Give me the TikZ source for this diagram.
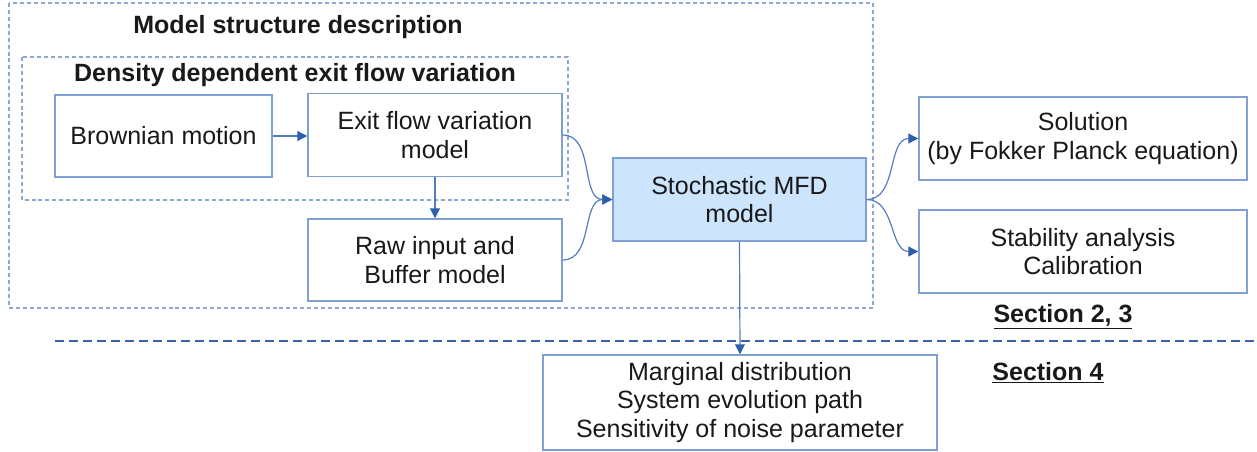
\documentclass[tikz,border=0pt]{standalone}
\usepackage{fontspec}
\setmainfont{Liberation Sans}
\usetikzlibrary{arrows.meta}
\definecolor{boxline}{RGB}{128,160,212}
\definecolor{conn}{RGB}{85,125,190}
\definecolor{tipc}{RGB}{45,95,170}
\definecolor{stochfill}{RGB}{204,228,252}
\definecolor{contline}{RGB}{140,168,212}
\definecolor{sepline}{RGB}{55,100,170}
\definecolor{txt}{RGB}{25,25,25}
\tikzset{
  every node/.style={text=txt, font=\fontsize{18.75}{21.3}\selectfont},
  blockbox/.style={draw=boxline, line width=1.1pt, inner sep=0pt, align=center},
  container/.style={draw=contline, line width=1pt, dash pattern=on 3pt off 2.2pt},
  conn/.style={draw=conn, line width=0.9pt, -{Triangle[length=7.5pt,width=7.5pt,fill=tipc,color=tipc]}},
  titletext/.style={font=\bfseries\fontsize{18.75}{21.3}\selectfont},
}
\begin{document}
\begin{tikzpicture}[x=0.75pt,y=-0.75pt]
\useasboundingbox (0,0) rectangle (1257,451);
% containers
\draw[container] (9,3) rectangle (873,308);
\draw[container] (22,57) rectangle (568,200);
\node[titletext] (t1) at (298,27) {Model structure description};
\node[titletext] (t2) at (295,75) {Density dependent exit flow variation};
% blocks
\node[blockbox, minimum width=162.75pt, minimum height=61.5pt] (bm) at (163.5,136) {Brownian motion};
\node[blockbox, minimum width=190.5pt, minimum height=62.25pt] (ex) at (435,135) {Exit flow variation\\model};
\node[blockbox, minimum width=190.5pt, minimum height=61.5pt] (raw) at (435,260) {Raw input and\\Buffer model};
\node[blockbox, fill=stochfill, minimum width=189.75pt, minimum height=62.25pt] (st) at (739.5,199.5) {Stochastic MFD\\model};
\node[blockbox, minimum width=246pt, minimum height=62.25pt] (sol) at (1083,138.5) {Solution\\(by Fokker Planck equation)};
\node[blockbox, minimum width=246pt, minimum height=62.25pt] (stab) at (1083,251.5) {Stability analysis\\Calibration};
\node[blockbox, minimum width=295.5pt, minimum height=71.25pt] (mar) at (740,402.5) {Marginal distribution\\System evolution path\\Sensitivity of noise parameter};
% section labels
\node[titletext] (s23) at (1063,317) {\underline{Section 2, 3}};
\node[titletext] (s4) at (1048,373) {\underline{Section 4}};
% separator
\coordinate (sepL) at (55,341);
\coordinate (sepR) at (1257,341);
\draw[sepline, line width=2.2pt, dash pattern=on 7pt off 3.5pt] (sepL) -- (sepR);
% connectors
\draw[conn] (bm.east) -- (ex.west |- bm.east);
\draw[conn] (ex.south) -- (raw.north);
\draw[conn] (ex.east) to[out=0,in=180] (st.west);
\draw[conn] (raw.east) to[out=0,in=180] (st.west);
\draw[conn] (st.east) to[out=0,in=180] (sol.west);
\draw[conn] (st.east) to[out=0,in=180] (stab.west);
\draw[conn] (st.south) -- (mar.north);
\end{tikzpicture}
\end{document}
